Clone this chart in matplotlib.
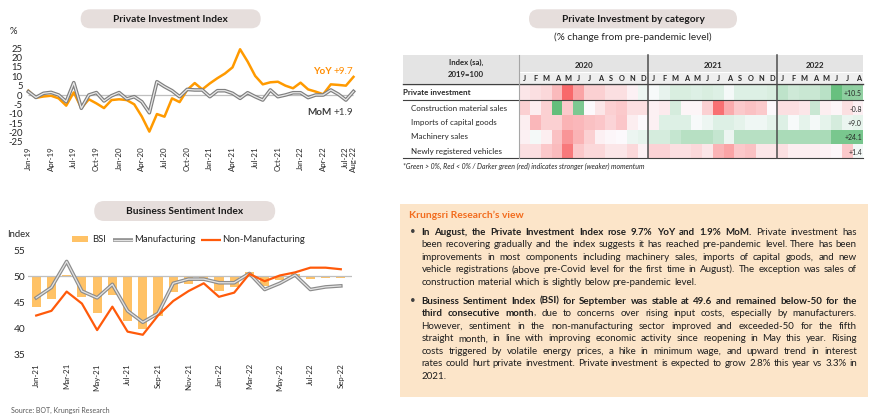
import matplotlib
matplotlib.use('Agg')
import matplotlib.pyplot as plt
from matplotlib.patches import FancyBboxPatch, Rectangle
from matplotlib.colors import LinearSegmentedColormap, TwoSlopeNorm
import numpy as np

plt.rcParams['font.family'] = ['Lato', 'DejaVu Sans']

# ---------------- data ----------------
mon_abbr = ['Jan', 'Feb', 'Mar', 'Apr', 'May', 'Jun', 'Jul', 'Aug', 'Sep', 'Oct', 'Nov', 'Dec']
pi_months = [f"{m}-{y}" for y in ['19', '20', '21', '22'] for m in mon_abbr][:44]
pi_yoy = [2.3, -1.5, -0.8, -0.4, -1.8, -5.7, 1.4, -7.0, -2.3, -4.5, -7.0, -2.7,
          -2.3, -2.7, -5.0, -11.5, -19.6, -10.2, -11.6, -1.8, -3.8, 2.7, 6.4, 3.0,
          6.2, 9.0, 11.5, 14.8, 24.5, 17.9, 10.2, 5.7, 6.8, 7.1, 5.0, 3.6,
          6.6, 3.0, 1.8, 0.4, 5.7, 5.4, 5.0, 9.7]
pi_mom = [1.8, -1.3, 0.9, 1.4, 0.0, -3.6, 6.6, -7.1, 0.0, 1.3, -3.2, -0.4,
          1.3, -2.1, -0.9, -3.6, -9.5, 7.1, 4.5, 2.3, -0.9, 3.0, 2.7, 2.7,
          -0.9, 2.3, 2.3, 0.9, -1.8, 1.2, -0.9, -2.7, 2.7, -0.9, 0.0, 1.2,
          1.2, -1.4, 0.0, 0.0, 2.7, 0.4, -2.7, 1.9]
pi_tick_labels = ['Jan-19', 'Apr-19', 'Jul-19', 'Oct-19', 'Jan-20', 'Apr-20', 'Jul-20', 'Oct-20',
                  'Jan-21', 'Apr-21', 'Jul-21', 'Oct-21', 'Jan-22', 'Apr-22', 'Jul-22', 'Aug-22']

bsi_months = [f"{m}-{y}" for y in ['21', '22'] for m in mon_abbr][:21]
bsi = [44.1, 45.6, 50.2, 46.0, 42.9, 46.3, 41.3, 39.9, 42.3, 47.0, 48.4, 49.0,
       47.2, 47.8, 50.7, 48.1, 49.2, 50.3, 49.4, 49.6, 49.6]
bsi_manu = [45.8, 47.8, 52.8, 47.1, 45.8, 48.4, 43.3, 41.1, 42.8, 48.6, 49.4, 49.4,
            48.7, 48.7, 50.5, 47.4, 48.6, 50.2, 47.4, 47.9, 48.1]
bsi_nonmanu = [42.4, 43.3, 47.0, 44.7, 39.6, 44.1, 39.3, 38.7, 42.4, 45.2, 47.1, 48.6,
               46.0, 46.8, 50.4, 49.0, 50.1, 50.7, 51.6, 51.6, 51.3]
bsi_tick_labels = ['Jan-21', 'Mar-21', 'May-21', 'Jul-21', 'Sep-21', 'Nov-21',
                   'Jan-22', 'Mar-22', 'May-22', 'Jul-22', 'Sep-22']

hm_rows = ['Private investment', 'Construction material sales', 'Imports of capital goods',
           'Machinery sales', 'Newly registered vehicles']
hm_years = ['2020', '2021', '2022']
hm_month_letters = ['J', 'F', 'M', 'A', 'M', 'J', 'J', 'A', 'S', 'O', 'N', 'D']
hm_private_inv = [-3.0, -4.0, -5.0, -9.0, -20.0, -12.0, -6.0, -6.0, -4.0, -4.0, -1.5, 1.5,
                  0.5, 2.0, 3.5, 3.5, 3.0, 3.5, 3.0, 0.8, 3.0, 3.0, 3.0, 3.5,
                  6.0, 4.5, 5.0, 5.0, 6.5, 14.5, 10.8, 10.5]
hm_construction = [-3.0, -1.0, -3.0, 6.0, -3.5, 5.0, -0.2, -1.5, -3.0, -3.5, -2.0, -2.0,
                   -0.8, -1.2, 1.5, -0.5, -0.5, -3.0, -9.5, -5.5, -3.5, -4.0, -3.5, -0.3,
                   -2.0, -2.0, -1.5, 2.0, -1.0, -0.5, -2.0, -0.8]
hm_imports = [-3.0, -14.0, -9.0, -9.0, -15.0, -14.0, -12.0, -11.0, -8.0, -11.0, -3.0, -0.5,
              -2.5, 12.0, 12.0, 12.0, 2.0, 6.0, 12.0, 12.0, 9.0, 5.0, 5.0, 9.0,
              12.0, 2.0, 9.0, 3.0, 9.0, 15.0, 7.0, 9.0]
hm_machinery = [-2.5, 1.5, -3.0, -12.0, -21.0, -15.0, -9.0, -2.5, -1.2, -0.5, 3.0, 4.0,
                7.0, 7.0, 10.0, 12.5, 12.5, 12.5, 10.0, 3.0, 12.5, 12.5, 12.5, 12.5,
                15.0, 15.0, 15.0, 15.0, 15.0, 24.0, 24.0, 24.1]
hm_vehicles = [-9.0, -9.0, -16.0, -20.0, -40.0, -16.0, -11.0, -11.0, -7.0, -7.0, -11.0, -3.5,
               -13.0, -13.0, -9.0, -9.0, -11.0, -7.0, -22.0, -27.0, -16.0, -18.0, -7.0, -7.0,
               -9.0, -4.5, -4.5, -4.5, -3.5, -2.0, -16.0, 1.4]
hm_latest_labels = ['+10.5', '-0.8', '+9.0', '+24.1', '+1.4']
hm_row_vmin = [-20, -10, -30, -30, -45]
hm_row_vmax = [15, 6, 60, 28, 25]

# ---------------- figure ----------------
W, H = 870, 419
fig = plt.figure(figsize=(W / 100, H / 100), dpi=100)
fig.patch.set_facecolor('white')

ov = fig.add_axes([0, 0, 1, 1], zorder=0)
ov.set_xlim(0, W)
ov.set_ylim(H, 0)
ov.axis('off')
ov.patch.set_alpha(0)

TXT = '#262626'


def add_ax(x0, y0, x1, y1):
    a = fig.add_axes([x0 / W, 1 - y1 / H, (x1 - x0) / W, (y1 - y0) / H], zorder=2)
    a.patch.set_alpha(0)
    for s in a.spines.values():
        s.set_visible(False)
    a.tick_params(length=0, colors=TXT)
    return a


def pill(cx, cy, w, h, text):
    p = FancyBboxPatch((cx - w / 2, cy - h / 2), w, h,
                       boxstyle=f"round,pad=0,rounding_size={h / 2}",
                       fc='#E6DEDC', ec='none', zorder=1)
    ov.add_patch(p)
    ov.text(cx, cy + 0.5, text, ha='center', va='center', fontsize=7.3,
            fontweight='bold', color='#1a1a1a', zorder=2)


# ---------- Private Investment Index ----------
pill(170.7, 18.8, 180, 19, 'Private Investment Index')
ov.text(10, 32, '%', fontsize=6.8, color=TXT, va='center')

PX0, PSP = 28.4, 7.56
ax1 = add_ax(26, 40, 362, 143)
x1 = np.arange(len(pi_yoy))
ax1.hlines(0, x1[0], x1[-1], color='#BFBFBF', lw=0.9, zorder=1)
ax1.plot(x1, pi_yoy, color='#FF9A00', lw=1.8, zorder=2)
ax1.plot(x1, pi_mom, color='#7F7F7F', lw=2.6, zorder=3)
ax1.plot(x1, pi_mom, color='#E9E9E9', lw=0.9, zorder=4)
ax1.set_xlim((26 - PX0) / PSP, (362 - PX0) / PSP)
ax1.set_ylim(-25 - (143 - 141.7) / 1.867, 25 + (48.3 - 40) / 1.867)
ax1.set_yticks(range(-25, 30, 5))
ax1.set_yticklabels([str(v) for v in range(-25, 30, 5)], fontsize=6.8)
ax1.tick_params(axis='y', pad=2.5)
ticks1 = [pi_months.index(l) for l in pi_tick_labels]
ax1.set_xticks(ticks1)
ax1.set_xticklabels(pi_tick_labels, rotation=90, fontsize=5.7)
ax1.tick_params(axis='x', pad=2.5)

ov.text(313, 71, 'YoY', fontsize=7.2, fontweight='bold', color='#FF8C00', va='center')
ov.text(334, 71, '+9.7', fontsize=7.2, color='#FF8C00', va='center')
ov.text(307, 112.5, 'MoM', fontsize=7.2, fontweight='bold', color='#404040', va='center')
ov.text(334, 112.5, '+1.9', fontsize=7.2, color='#404040', va='center')

# ---------- Business Sentiment Index ----------
pill(184.7, 211, 181, 20, 'Business Sentiment Index')
ov.text(7, 234, 'Index', fontsize=6.8, color=TXT, va='center')

BX0, BSP = 36.2, 15.23
ax2 = add_ax(28, 245, 352, 359)
x2 = np.arange(len(bsi))
ax2.bar(x2, np.array(bsi) - 50, bottom=50, width=0.6, color='#FFC266', zorder=1)
ax2.axhline(50, color='#BFBFBF', lw=0.9, zorder=2)
ax2.plot(x2, bsi_manu, color='#8C8C8C', lw=2.6, zorder=3)
ax2.plot(x2, bsi_manu, color='#E3E3E3', lw=0.9, zorder=4)
ax2.plot(x2, bsi_nonmanu, color='#FF5A0A', lw=1.6, zorder=5)
ax2.set_xlim((28 - BX0) / BSP, (352 - BX0) / BSP)
ax2.set_ylim(35 - (359 - 354) / 5.2, 55 + (250 - 245) / 5.2)
ax2.set_yticks([35, 40, 45, 50, 55])
ax2.set_yticklabels(['35', '40', '45', '50', '55'], fontsize=7.3)
ax2.tick_params(axis='y', pad=2)
ticks2 = [bsi_months.index(l) for l in bsi_tick_labels]
ax2.set_xticks(ticks2)
ax2.set_xticklabels(bsi_tick_labels, rotation=90, fontsize=5.7)
ax2.tick_params(axis='x', pad=3)

# legend
ov.add_patch(Rectangle((72, 236.3), 16, 6, fc='#FFC266', ec='none'))
ov.text(92, 239.5, 'BSI', fontsize=6.8, color=TXT, va='center')
ov.plot([113, 133], [239.5, 239.5], color='#8C8C8C', lw=2.6, solid_capstyle='butt')
ov.plot([113, 133], [239.5, 239.5], color='#E3E3E3', lw=0.9, solid_capstyle='butt')
ov.text(134, 239.5, 'Manufacturing', fontsize=6.8, color=TXT, va='center')
ov.plot([201, 221], [239.5, 239.5], color='#FF5A0A', lw=1.6, solid_capstyle='butt')
ov.text(222, 239.5, 'Non-Manufacturing', fontsize=6.8, color=TXT, va='center')

ov.text(11, 410, 'Source: BOT, Krungsri Research', fontsize=5, color='#595959', va='center')

# ---------- Heatmap ----------
pill(633, 18.8, 208, 19, 'Private Investment by category')
ov.text(633, 37.7, '(% change from pre-pandemic level)', fontsize=7.2, color=TXT,
        ha='center', va='center')

TL, TR = 403, 863.5
C0, CW = 519.5, 10.75
top, yr_bot, mo_bot = 55, 72.3, 83.5
row_edges = [85.3, 99.6, 101.2, 115.5, 129.8, 144.1, 158.4]

ov.add_patch(Rectangle((TL, top), C0 - TL, mo_bot - top, fc='#E4E4E4', ec='none'))
ov.add_patch(Rectangle((C0, top), TR - C0, yr_bot - top, fc='#E4E4E4', ec='none'))
ov.add_patch(Rectangle((C0, yr_bot + 0.6), TR - C0, mo_bot - yr_bot - 0.6, fc='#EFEFEF', ec='none'))
ov.text((TL + C0) / 2 + 5, 62, 'Index (sa),', fontsize=5.6, fontweight='bold', color=TXT,
        ha='center', va='center')
ov.text((TL + C0) / 2 + 5, 74.5, '2019=100', fontsize=5.6, fontweight='bold', color=TXT,
        ha='center', va='center')

ncol = len(hm_private_inv)
col_edges = C0 + CW * np.arange(ncol + 1)
year_cols = [12, 12, 7]
start = 0
for yl, n in zip(hm_years, year_cols):
    cx = (col_edges[start] + col_edges[start + n]) / 2
    ov.text(cx, 65.5, yl, fontsize=5.8, fontweight='bold', color=TXT, ha='center', va='center')
    start += 12
letters = (hm_month_letters * 3)[:ncol]
for i, l in enumerate(letters):
    ov.text((col_edges[i] + col_edges[i + 1]) / 2, 78.3, l, fontsize=5.3, fontweight='bold',
            color=TXT, ha='center', va='center')

cmap = LinearSegmentedColormap.from_list('rwg', ['#F8696B', '#FCFCFF', '#63BE7B'])
hm_data = [hm_private_inv, hm_construction, hm_imports, hm_machinery, hm_vehicles]
row_spans = [(row_edges[0], row_edges[1])] + [(row_edges[i], row_edges[i + 1]) for i in range(2, 6)]
for r, (vals, (y0, y1)) in enumerate(zip(hm_data, row_spans)):
    norm = TwoSlopeNorm(vmin=hm_row_vmin[r], vcenter=0, vmax=hm_row_vmax[r])
    ov.pcolormesh(col_edges, [y0, y1], np.array([vals]), cmap=cmap, norm=norm,
                  shading='flat', zorder=1)
    cy = (y0 + y1) / 2
    if r == 0:
        ov.text(TL + 0.5, cy, hm_rows[r], fontsize=5.8, fontweight='bold', color=TXT, va='center')
    else:
        ov.text(TL + 8.5, cy, hm_rows[r], fontsize=5.8, color=TXT, va='center')
    ov.text(TR - 1.5, cy + 1, hm_latest_labels[r], fontsize=5.0, color=TXT,
            ha='right', va='center', zorder=3)

ov.plot([TL, TR], [84.4, 84.4], color='#404040', lw=1.0, zorder=3)
ov.plot([TL, TR], [100.4, 100.4], color='#404040', lw=0.8, zorder=3)
ov.plot([TL, TR], [158.4, 158.4], color='#404040', lw=0.8, zorder=3)
ov.plot([C0, C0], [top, 158.4], color='#A6A6A6', lw=0.8, zorder=3)
for k in (12, 24):
    ov.plot([col_edges[k], col_edges[k]], [top, 158.4], color='#4D4D4D', lw=1.1, zorder=3)

ov.text(403, 166.5, '*Green > 0%, Red < 0% / Darker green (red) indicates stronger (weaker) momentum',
        fontsize=5.0, style='italic', color=TXT, va='center')

# ---------- Krungsri Research's view ----------
ov.add_patch(Rectangle((400, 204), 468, 192.5, fc='#FCE5C9', ec='none', zorder=0))
ov.text(409, 215.5, 'Krungsri Research\u2019s view', fontsize=7.4, fontweight='bold',
        color='#F26B1D', va='center')

renderer = fig.canvas.get_renderer()


def text_w(s, fs, wt):
    t = ov.text(0, 0, s, fontsize=fs, fontweight=wt)
    w = t.get_window_extent(renderer).width
    t.remove()
    return w


def tokenize(segments):
    words = []
    prev_space = True
    for txt, wt in segments:
        parts = txt.split(' ')
        for i, p in enumerate(parts):
            if p == '':
                continue
            if i == 0 and not prev_space and words:
                words[-1].append((p, wt))
            else:
                words.append([(p, wt)])
        prev_space = txt.endswith(' ')
    return words


B = 'bold'
N = 'normal'
para1 = [
    ([('In August, the Private Investment Index rose 9.7% YoY and 1.9% MoM.', B),
      (' Private investment has', N)], True),
    ([('been recovering gradually and the index suggests it has reached pre-pandemic level. There has been', N)], True),
    ([('improvements in most components including machinery sales, imports of capital goods, and new', N)], True),
    ([('vehicle registrations (above pre-Covid level for the first time in August). The exception was sales of', N)], True),
    ([('construction material which is slightly below pre-pandemic level.', N)], False),
]
para2 = [
    ([('Business Sentiment Index (BSI) for September was stable at 49.6 and remained below-50 for the', B)], True),
    ([('third consecutive month', B), (', due to concerns over rising input costs, especially by manufacturers.', N)], True),
    ([('However, sentiment in the non-manufacturing sector improved and exceeded-50 for the fifth', N)], True),
    ([('straight month, in line with improving economic activity since reopening in May this year. Rising', N)], True),
    ([('costs triggered by volatile energy prices, a hike in minimum wage, and upward trend in interest', N)], True),
    ([('rates could hurt private investment. Private investment is expected to grow 2.8% this year vs 3.3% in', N)], True),
    ([('2021.', N)], False),
]

XL, XR = 421.5, 856.8
fs = 7.2
sp1 = text_w('a a', fs, N) - text_w('aa', fs, N)
maxw = 0
for segs, j in para1 + para2:
    words = tokenize(segs)
    wsum = sum(text_w(p, fs, w) for wd in words for p, w in wd) + sp1 * (len(words) - 1)
    maxw = max(maxw, wsum)
if maxw > (XR - XL) * 0.99:
    fs = fs * (XR - XL) * 0.99 / maxw


def draw_line(segs, y, justify):
    words = tokenize(segs)
    pw = [[text_w(p, fs, w) for p, w in wd] for wd in words]
    widths = [sum(p) for p in pw]
    sp = text_w('a a', fs, N) - text_w('aa', fs, N)
    if justify and len(words) > 1:
        gap = (XR - XL - sum(widths)) / (len(words) - 1)
    else:
        gap = sp
    x = XL
    for wd, pws, wdt in zip(words, pw, widths):
        xx = x
        for (p, w), pwi in zip(wd, pws):
            ov.text(xx, y, p, fontsize=fs, fontweight=w, color='#1F1F1F', va='baseline', ha='left')
            xx += pwi
        x += wdt + gap


LS = 12.55
y = 234.6
ov.text(410, y - 0.5, '\u2022', fontsize=7, color='#404040', va='baseline')
for segs, j in para1:
    draw_line(segs, y, j)
    y += LS
y = 303.6
ov.text(410, y - 0.5, '\u2022', fontsize=7, color='#404040', va='baseline')
for segs, j in para2:
    draw_line(segs, y, j)
    y += LS

fig.savefig('out.png', dpi=100)
